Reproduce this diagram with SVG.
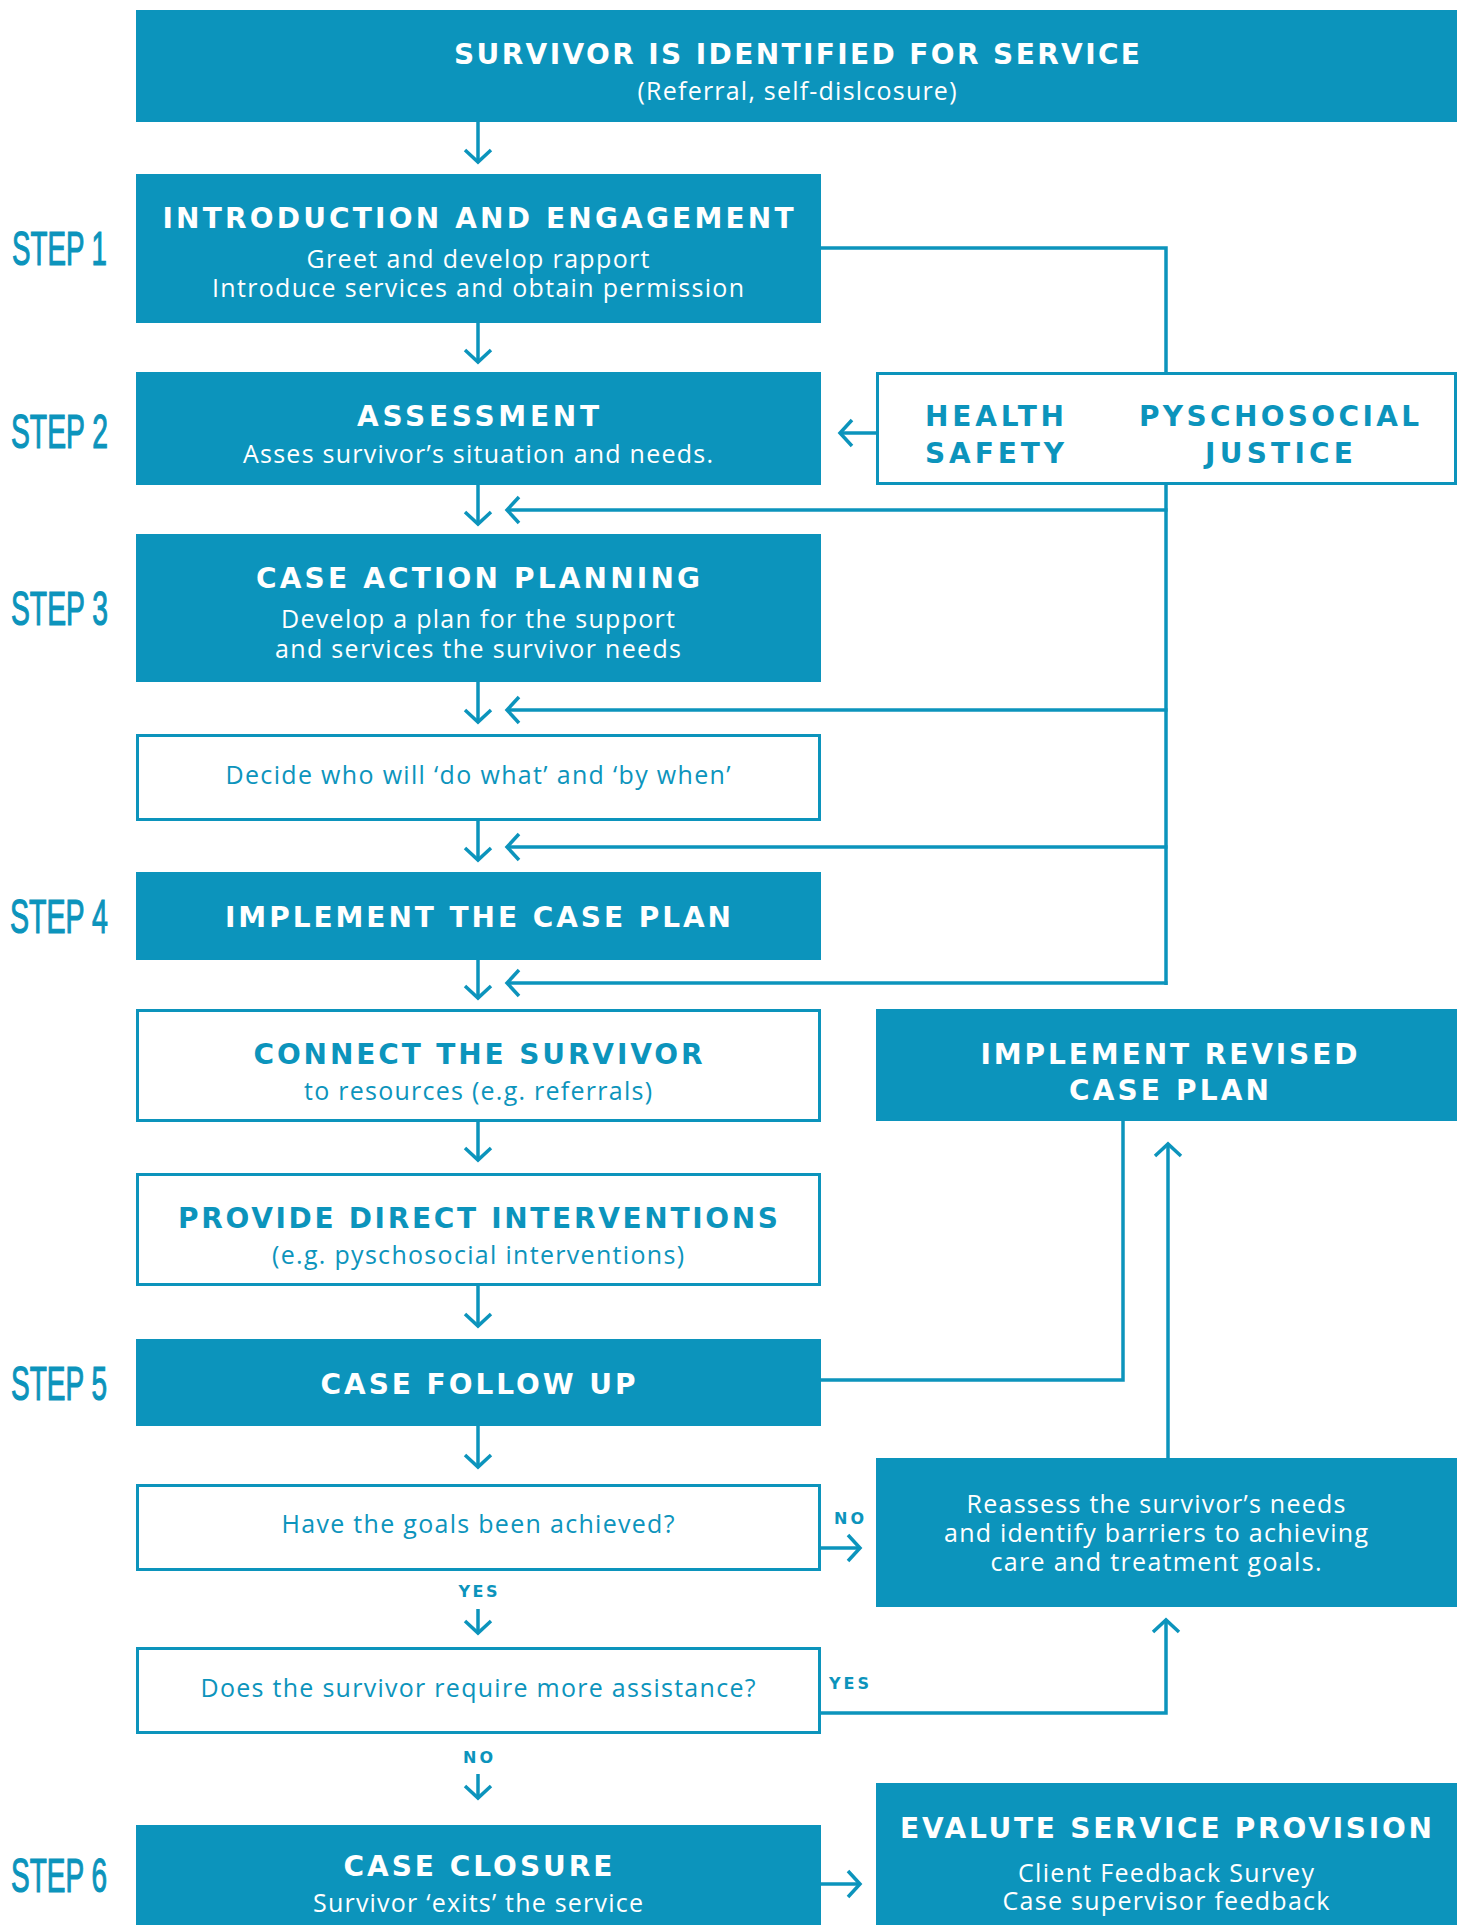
<svg xmlns="http://www.w3.org/2000/svg" width="1468" height="1925" viewBox="0 0 1468 1925">
<style>
.fill{fill:#0c94bc}
.wbox{fill:#fff;stroke:#0c94bc;stroke-width:3}
.t{font-family:"DejaVu Sans","Open Sans",sans-serif;font-weight:700;font-size:28px;text-anchor:middle}
.b{font-family:"Open Sans","Liberation Sans",sans-serif;font-weight:400;font-size:25px;text-anchor:middle}
.w{fill:#fff}
.c{fill:#0c94bc}
.step{font-family:"Liberation Sans",Arial,sans-serif;font-size:49px;fill:#0c94bc;stroke:#0c94bc;stroke-width:1.2}
.lbl{font-family:"DejaVu Sans","Open Sans",sans-serif;font-weight:700;font-size:16px;fill:#0c94bc;text-anchor:middle}
.ln{fill:none;stroke:#0c94bc;stroke-width:3.5}
.ar{marker-end:url(#chev)}
</style>
<defs>
<marker id="chev" markerUnits="userSpaceOnUse" markerWidth="30" markerHeight="34" refX="16" refY="17" orient="auto">
<path d="M4,4 L16,17 L4,30" fill="none" stroke="#0c94bc" stroke-width="3.5"/>
</marker>
</defs>

<g id="steps">
<text class="step" x="12" y="265" textLength="95" lengthAdjust="spacingAndGlyphs">STEP 1</text>
<text class="step" x="11" y="448" textLength="97" lengthAdjust="spacingAndGlyphs">STEP 2</text>
<text class="step" x="11" y="625" textLength="97" lengthAdjust="spacingAndGlyphs">STEP 3</text>
<text class="step" x="10" y="933" textLength="98" lengthAdjust="spacingAndGlyphs">STEP 4</text>
<text class="step" x="11" y="1400" textLength="96" lengthAdjust="spacingAndGlyphs">STEP 5</text>
<text class="step" x="11" y="1892" textLength="96" lengthAdjust="spacingAndGlyphs">STEP 6</text>
</g>

<g id="connectors">
<path class="ln ar" d="M478,122 V162"/>
<path class="ln ar" d="M478,323 V362"/>
<path class="ln" d="M820,248 H1166 V372"/>
<path class="ln ar" d="M876,433 H840"/>
<path class="ln ar" d="M478,485 V524"/>
<path class="ln" d="M1166,485 V985"/>
<path class="ln ar" d="M1167.5,510 H507"/>
<path class="ln ar" d="M478,682 V722"/>
<path class="ln ar" d="M1167.5,710 H507"/>
<path class="ln ar" d="M478,821 V860"/>
<path class="ln ar" d="M1167.5,847 H507"/>
<path class="ln ar" d="M478,960 V998"/>
<path class="ln ar" d="M1167.5,983 H507"/>
<path class="ln ar" d="M478,1121 V1160"/>
<path class="ln ar" d="M478,1285 V1326"/>
<path class="ln" d="M820,1380 H1123 V1121"/>
<path class="ln ar" d="M478,1426 V1467"/>
<path class="ln ar" d="M820,1548 H860"/>
<path class="ln ar" d="M478,1609 V1633"/>
<path class="ln ar" d="M820,1713 H1166 V1620"/>
<path class="ln ar" d="M1168,1458 V1144"/>
<path class="ln ar" d="M478,1774 V1798"/>
<path class="ln ar" d="M820,1884 H860"/>
<text class="lbl" x="849" y="1524" textLength="30">NO</text>
<text class="lbl" x="478" y="1597" textLength="39">YES</text>
<text class="lbl" x="849" y="1689" textLength="40">YES</text>
<text class="lbl" x="478" y="1763" textLength="30">NO</text>
</g>

<g id="identified">
<rect class="fill" x="136" y="10" width="1321" height="112"/>
<text class="t w" x="797" y="64" textLength="686">SURVIVOR IS IDENTIFIED FOR SERVICE</text>
<text class="b w" x="797" y="100" textLength="319">(Referral, self-dislcosure)</text>
</g>

<g id="step1">
<rect class="fill" x="136" y="174" width="685" height="149"/>
<text class="t w" x="478" y="228" textLength="631">INTRODUCTION AND ENGAGEMENT</text>
<text class="b w" x="478" y="268" textLength="343">Greet and develop rapport</text>
<text class="b w" x="478" y="297" textLength="532">Introduce services and obtain permission</text>
</g>

<g id="assessment">
<rect class="fill" x="136" y="372" width="685" height="113"/>
<text class="t w" x="478" y="426" textLength="242">ASSESSMENT</text>
<text class="b w" x="478" y="463" textLength="470">Asses survivor’s situation and needs.</text>
</g>

<g id="domains">
<rect class="wbox" x="877.5" y="373.5" width="578" height="110"/>
<text class="t c" x="925" y="426" style="text-anchor:start" textLength="139">HEALTH</text>
<text class="t c" x="925" y="463" style="text-anchor:start" textLength="139">SAFETY</text>
<text class="t c" x="1279" y="426" textLength="280">PYSCHOSOCIAL</text>
<text class="t c" x="1279" y="463" textLength="148">JUSTICE</text>
</g>

<g id="step3">
<rect class="fill" x="136" y="534" width="685" height="148"/>
<text class="t w" x="478" y="588" textLength="444">CASE ACTION PLANNING</text>
<text class="b w" x="478" y="628" textLength="394">Develop a plan for the support</text>
<text class="b w" x="478" y="658" textLength="406">and services the survivor needs</text>
</g>

<g id="decide">
<rect class="wbox" x="137.5" y="735.5" width="682" height="84"/>
<text class="b c" x="478" y="784" textLength="505">Decide who will ‘do what’ and ‘by when’</text>
</g>

<g id="step4">
<rect class="fill" x="136" y="872" width="685" height="88"/>
<text class="t w" x="478" y="927" textLength="506">IMPLEMENT THE CASE PLAN</text>
</g>

<g id="connect">
<rect class="wbox" x="137.5" y="1010.5" width="682" height="110"/>
<text class="t c" x="478" y="1064" textLength="449">CONNECT THE SURVIVOR</text>
<text class="b c" x="478" y="1100" textLength="348">to resources (e.g. referrals)</text>
</g>

<g id="revised">
<rect class="fill" x="876" y="1009" width="581" height="112"/>
<text class="t w" x="1169" y="1064" textLength="377">IMPLEMENT REVISED</text>
<text class="t w" x="1169" y="1100" textLength="200">CASE PLAN</text>
</g>

<g id="direct">
<rect class="wbox" x="137.5" y="1174.5" width="682" height="110"/>
<text class="t c" x="478" y="1228" textLength="600">PROVIDE DIRECT INTERVENTIONS</text>
<text class="b c" x="478" y="1264" textLength="412">(e.g. pyschosocial interventions)</text>
</g>

<g id="step5">
<rect class="fill" x="136" y="1339" width="685" height="87"/>
<text class="t w" x="478" y="1394" textLength="315">CASE FOLLOW UP</text>
</g>

<g id="goals">
<rect class="wbox" x="137.5" y="1485.5" width="682" height="84"/>
<text class="b c" x="478" y="1533" textLength="393">Have the goals been achieved?</text>
</g>

<g id="reassess">
<rect class="fill" x="876" y="1458" width="581" height="149"/>
<text class="b w" x="1156" y="1513" textLength="379">Reassess the survivor’s needs</text>
<text class="b w" x="1156" y="1542" textLength="424">and identify barriers to achieving</text>
<text class="b w" x="1156" y="1571" textLength="331">care and treatment goals.</text>
</g>

<g id="assist">
<rect class="wbox" x="137.5" y="1648.5" width="682" height="84"/>
<text class="b c" x="478" y="1697" textLength="555">Does the survivor require more assistance?</text>
</g>

<g id="step6">
<rect class="fill" x="136" y="1825" width="685" height="110"/>
<text class="t w" x="478" y="1876" textLength="269">CASE CLOSURE</text>
<text class="b w" x="478" y="1912" textLength="330">Survivor ‘exits’ the service</text>
</g>

<g id="evaluate">
<rect class="fill" x="876" y="1783" width="581" height="152"/>
<text class="t w" x="1166" y="1838" textLength="532">EVALUTE SERVICE PROVISION</text>
<text class="b w" x="1166" y="1882" textLength="296">Client Feedback Survey</text>
<text class="b w" x="1166" y="1910" textLength="327">Case supervisor feedback</text>
</g>
</svg>
